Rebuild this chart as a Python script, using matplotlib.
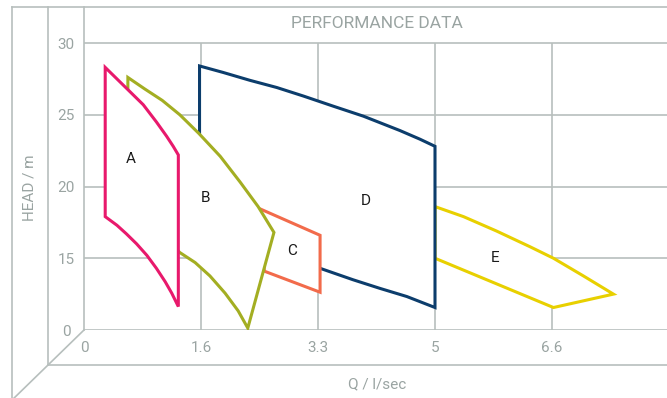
import numpy as np
import matplotlib.pyplot as plt
from matplotlib.patches import Polygon
from matplotlib.lines import Line2D
from matplotlib.transforms import IdentityTransform

plt.rcParams['font.family'] = ['Roboto', 'DejaVu Sans']

# axis ticks (equally spaced on the chart, not linear)
q_ticks = [0, 1.6, 3.3, 5, 6.6]
q_labels = ['0', '1.6', '3.3', '5', '6.6']
head_ticks = [0, 15, 20, 25, 30]
head_labels = ['0', '15', '20', '25', '30']

# pump curves: Q (l/sec) and head (m) around each outline
a_q = [0.29, 0.45, 0.63, 0.81, 0.99, 1.13, 1.22, 1.29,
       1.29, 1.20, 1.11, 0.99, 0.86, 0.72, 0.58, 0.45, 0.29]
a_h = [28.3, 27.5, 26.6, 25.7, 24.5, 23.5, 22.8, 22.2,
       4.9, 7.7, 10.1, 12.9, 15.2, 16.0, 16.7, 17.3, 17.9]

b_q = [0.60, 0.83, 1.07, 1.31, 1.57, 1.88, 2.17, 2.43, 2.66,
       2.28, 2.14, 1.95, 1.73, 1.52, 1.31, 0.60]
b_h = [27.6, 26.8, 26.0, 25.0, 23.7, 22.1, 20.3, 18.6, 16.8,
       0.4, 4.0, 7.7, 11.3, 14.1, 15.4, 19.1]

c_q = [2.43, 3.33, 3.33, 2.52]
c_h = [18.5, 16.6, 7.9, 12.3]

d_q = [1.58, 1.92, 2.31, 2.70, 3.09, 3.52, 3.96, 4.49, 4.78, 5.00,
       5.00, 4.59, 4.20, 3.81, 3.33, 2.17, 1.58]
d_h = [28.4, 27.95, 27.4, 26.9, 26.3, 25.6, 24.9, 23.9, 23.3, 22.8,
       4.7, 7.0, 8.7, 10.5, 12.9, 16.3, 19.1]

e_q = [5.00, 5.39, 5.84, 6.30, 6.62, 7.03, 7.44, 6.62, 5.00]
e_h = [18.6, 17.9, 16.9, 15.8, 15.0, 11.3, 7.5, 4.7, 15.0]

names = ['A', 'B', 'C', 'D', 'E']
colors = ['#e8196c', '#a3ae22', '#f26b4b', '#0c3d6c', '#e8d000']
label_q = [0.64, 1.67, 2.92, 4.0, 5.82]
label_h = [21.9, 19.2, 15.5, 19.0, 15.0]

# piecewise scales so the ticks sit at equal spacing
q_knots = [-1.6, 0, 1.6, 3.3, 5, 6.6, 8.2, 9.8]
h_knots = [-15, 0, 15, 20, 25, 30, 35, 40]
steps = np.arange(-1, 7)

def fq(v): return np.interp(v, q_knots, steps)
def iq(v): return np.interp(v, steps, q_knots)
def fh(v): return np.interp(v, h_knots, steps)
def ih(v): return np.interp(v, steps, h_knots)

W, H = 667, 398
grey_line = '#b7bfbd'
grey_text = '#9aa4a2'

fig = plt.figure(figsize=(W / 100, H / 100), dpi=100)
ax = fig.add_axes([84 / W, 68 / H, 583 / W, 323 / H])
ax.set_xscale('function', functions=(fq, iq))
ax.set_yscale('function', functions=(fh, ih))
xmax = float(iq(583 / 117))
ax.set_xlim(0, xmax)
ax.set_ylim(0, float(ih(323 / 71.75)))
ax.set_facecolor('none')
for s in ax.spines.values():
    s.set_visible(False)

# grid
ax.hlines(head_ticks, 0, xmax, color=grey_line, lw=1.2, zorder=1)
ax.vlines(q_ticks[1:], 0, 30, color=grey_line, lw=1.2, zorder=1)

ax.set_xticks(q_ticks, labels=q_labels)
ax.set_yticks(head_ticks, labels=head_labels)
ax.minorticks_off()
ax.tick_params(length=0, colors=grey_text, labelsize=11)
ax.tick_params(axis='y', pad=13)
ax.tick_params(axis='x', pad=8)
for lab in ax.get_yticklabels():
    lab.set_ha('center')

# shapes, A on top, E at the back
shapes = [(a_q, a_h), (b_q, b_h), (c_q, c_h), (d_q, d_h), (e_q, e_h)]
for i, (q, h) in enumerate(shapes):
    poly = Polygon(np.column_stack([q, h]), closed=True, facecolor='white',
                   edgecolor=colors[i], lw=2.2, joinstyle='miter', zorder=10 - i)
    ax.add_patch(poly)
    ax.text(label_q[i], label_h[i], names[i], ha='center', va='center',
            fontsize=11, color='#1a1a1a', zorder=20)

# pseudo 3d frame (figure pixels, y down)
def frame(xs, ys):
    fig.add_artist(Line2D(xs, [H - y for y in ys], transform=IdentityTransform(),
                          color=grey_line, lw=1.2))

frame([12, 667], [7, 7])
frame([12, 12], [7, 398])
frame([48, 48], [7, 365])
frame([84, 84], [7, 330])
frame([48, 667], [365, 365])
frame([84, 10], [330, 402])

fig.text(377 / W, 1 - 24 / H, 'PERFORMANCE DATA', ha='center', va='center',
         fontsize=12.5, color=grey_text)
fig.text(377 / W, 1 - 384 / H, 'Q / l/sec', ha='center', va='center',
         fontsize=11, color=grey_text)
fig.text(30 / W, 1 - 188 / H, 'HEAD / m', ha='center', va='center',
         rotation=90, fontsize=11, color=grey_text)

fig.savefig('out.png', dpi=100)
